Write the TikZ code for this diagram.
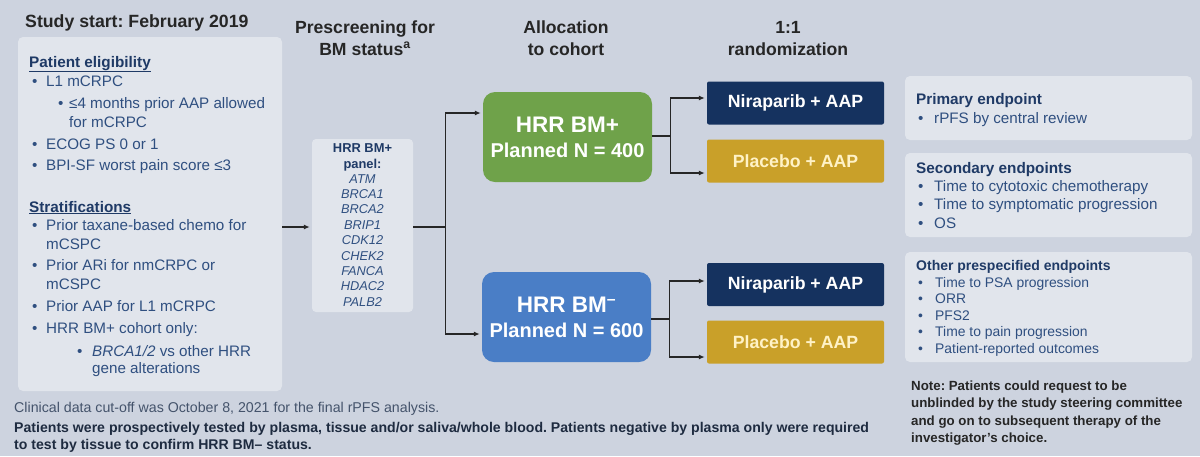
\documentclass[tikz,border=0pt]{standalone}
\usepackage{fontspec}
\setmainfont{Liberation Sans}
\usetikzlibrary{arrows.meta}
\frenchspacing

\definecolor{bgc}{HTML}{CDD3DF}
\definecolor{boxc}{HTML}{E1E5EC}
\definecolor{inkc}{HTML}{262626}
\definecolor{headc}{HTML}{1F3A66}
\definecolor{bodyc}{HTML}{2F4F80}
\definecolor{greenc}{HTML}{6FA24A}
\definecolor{bluec}{HTML}{4A7EC6}
\definecolor{navyc}{HTML}{15325F}
\definecolor{goldc}{HTML}{C9A029}
\definecolor{creamc}{HTML}{FFF2C6}
\definecolor{notec}{HTML}{44536B}
\definecolor{footc}{HTML}{1E2B40}

\newcommand{\bul}[1][14pt]{\makebox[#1][l]{\textbullet}}
\newcommand{\fsz}[1]{\fontsize{#1}{#1}\selectfont}

\begin{document}
\begin{tikzpicture}[x=1pt, y=-1pt,
  panelbg/.style={fill=boxc, rounded corners=5pt, inner sep=0pt},
  colhead/.style={anchor=base, inner sep=0pt, font=\bfseries\fsz{17.6}, text=inkc},
  line/.style={anchor=base west, inner sep=0pt, font=\fsz{15.2}, text=bodyc},
  subhead/.style={line, font=\bfseries\fsz{15.3}, text=headc},
  smline/.style={line, font=\fsz{13.9}},
  smhead/.style={subhead, font=\bfseries\fsz{14}},
  noteline/.style={anchor=base west, inner sep=0pt, font=\bfseries\fsz{13.3}, text=inkc},
  gene/.style={anchor=base, inner sep=0pt, font=\itshape\fsz{12.8}, text=bodyc},
  cohort/.style={rounded corners=12pt, minimum width=169pt, minimum height=90pt,
    text=white, align=center, inner sep=0pt, font=\bfseries\fsz{20}},
  armbox/.style={rounded corners=2pt, minimum width=177pt, minimum height=43pt,
    font=\bfseries\fsz{17.7}, inner sep=0pt},
  conn/.style={draw=inkc, line width=1.2pt},
  arr/.style={conn, -{Latex[length=6pt, width=5pt]}, shorten >=2pt}
]
\useasboundingbox (0,0) rectangle (1200,456);
\fill[bgc] (0,0) rectangle (1200,456);

\node[anchor=base west, inner sep=0pt, font=\bfseries\fsz{17.7}, text=inkc] (ttl) at (25,27) {Study start: February 2019};
\node[colhead] (h1a) at (365,33) {Prescreening for};
\node[colhead] (h1b) at (365,55) {BM status\textsuperscript{a}};
\node[colhead] (h2a) at (566,33) {Allocation};
\node[colhead] (h2b) at (566,55) {to cohort};
\node[colhead] (h3a) at (788,33) {1:1};
\node[colhead] (h3b) at (788,55) {randomization};

% eligibility and stratifications
\node[panelbg, minimum width=264pt, minimum height=354pt] (elig) at (150,214) {};
\node[subhead] (pe) at (29,67) {\underline{Patient eligibility}};
\node[line] (pe1) at (32,86) {\bul L1 mCRPC};
\node[line] (pe2) at (58,108) {\bul[11pt]≤4 months prior AAP allowed};
\node[line] (pe3) at (69,127) {for mCRPC};
\node[line] (pe4) at (32,149) {\bul ECOG PS 0 or 1};
\node[line] (pe5) at (32,170) {\bul BPI-SF worst pain score ≤3};
\node[subhead] (st) at (29,212) {\underline{Stratifications}};
\node[line] (st1) at (32,230) {\bul Prior taxane-based chemo for};
\node[line] (st2) at (46,249) {mCSPC};
\node[line] (st3) at (32,270) {\bul Prior ARi for nmCRPC or};
\node[line] (st4) at (46,289) {mCSPC};
\node[line] (st5) at (32,311) {\bul Prior AAP for L1 mCRPC};
\node[line] (st6) at (32,333) {\bul HRR BM+ cohort only:};
\node[line] (st7) at (77,356) {\bul[15pt]\textit{BRCA1/2} vs other HRR};
\node[line] (st8) at (92,373) {gene alterations};

% gene panel
\node[panelbg, rounded corners=4pt, minimum width=101pt, minimum height=173pt] (pnl) at (362.5,225.5) {};
\node[gene, font=\bfseries\fsz{12.9}, text=headc] (pn1) at (362.5,152) {HRR BM+};
\node[gene, font=\bfseries\fsz{12.9}, text=headc] (pn2) at (362.5,168) {panel:};
\foreach \g [count=\i from 0] in {ATM,BRCA1,BRCA2,BRIP1,CDK12,CHEK2,FANCA,HDAC2,PALB2}
  \node[gene] (g\i) at (362.5,{183+15.4*\i}) {\g};

% cohorts and arms
\node[cohort, fill=greenc] (bmpos) at (567.5,137) {{\fsz{22.5}HRR BM+}\\[5pt]Planned N = 400};
\node[cohort, fill=bluec] (bmneg) at (566.5,317) {{\fsz{22.5}HRR BM\textsuperscript{–}}\\[5pt]Planned N = 600};
\node[armbox, fill=navyc, text=white] (nir1) at (795.5,103) {Niraparib + AAP};
\node[armbox, fill=goldc, text=creamc] (pla1) at (795.5,161) {Placebo + AAP};
\node[armbox, fill=navyc, text=white] (nir2) at (795.5,284.5) {Niraparib + AAP};
\node[armbox, fill=goldc, text=creamc] (pla2) at (795.5,342) {Placebo + AAP};

\draw[arr] ([yshift=-13pt]elig.east) -- ([yshift=-13pt]elig.east -| pnl.west);
\draw[conn] ([yshift=-1.5pt]pnl.east) -- ++(32,0) coordinate (sp1);
\draw[arr] (sp1) |- ([yshift=24pt]bmpos.west);
\draw[arr] (sp1) |- ([yshift=-17pt]bmneg.west);
\draw[conn] ([yshift=1pt]bmpos.east) -- ++(18,0) coordinate (sp2);
\draw[arr] (sp2) |- ([yshift=5pt]nir1.west);
\draw[arr] (sp2) |- ([yshift=-12pt]pla1.west);
\draw[conn] ([yshift=-2pt]bmneg.east) -- ++(18,0) coordinate (sp3);
\draw[arr] (sp3) |- ([yshift=3.5pt]nir2.west);
\draw[arr] (sp3) |- ([yshift=-15pt]pla2.west);

% endpoints
\node[panelbg, minimum width=287pt, minimum height=64pt] (prim) at (1048.5,108) {};
\node[subhead] (pr) at (916,104) {Primary endpoint};
\node[line] (pr1) at (918,123) {\bul[16pt]rPFS by central review};
\node[panelbg, minimum width=287pt, minimum height=84pt] (sec) at (1048.5,195) {};
\node[subhead] (se) at (916,173) {Secondary endpoints};
\node[line] (se1) at (918,191) {\bul[16pt]Time to cytotoxic chemotherapy};
\node[line] (se2) at (918,209.5) {\bul[16pt]Time to symptomatic progression};
\node[line] (se3) at (918,228) {\bul[16pt]OS};
\node[panelbg, minimum width=287pt, minimum height=110pt] (oth) at (1048.5,307) {};
\node[smhead] (ot) at (916,270) {Other prespecified endpoints};
\foreach \e [count=\i from 0] in {Time to PSA progression,ORR,PFS2,Time to pain progression,Patient-reported outcomes}
  \node[smline] (ot\i) at (918,{287+16.6*\i}) {\bul[17pt]\e};

\node[noteline] (nt1) at (911,390) {Note: Patients could request to be};
\node[noteline] (nt2) at (911,407.5) {unblinded by the study steering committee};
\node[noteline] (nt3) at (911,425) {and go on to subsequent therapy of the};
\node[noteline] (nt4) at (911,442) {investigator’s choice.};

% footnotes
\node[anchor=base west, inner sep=0pt, font=\fsz{14.2}, text=notec] (ft1) at (14,412) {Clinical data cut-off was October 8, 2021 for the final rPFS analysis.};
\node[anchor=base west, inner sep=0pt, font=\bfseries\fsz{14.1}, text=footc] (ft2) at (14,432) {Patients were prospectively tested by plasma, tissue and/or saliva/whole blood. Patients negative by plasma only were required};
\node[anchor=base west, inner sep=0pt, font=\bfseries\fsz{14.1}, text=footc] (ft3) at (14,449) {to test by tissue to confirm HRR BM– status.};
\end{tikzpicture}
\end{document}
